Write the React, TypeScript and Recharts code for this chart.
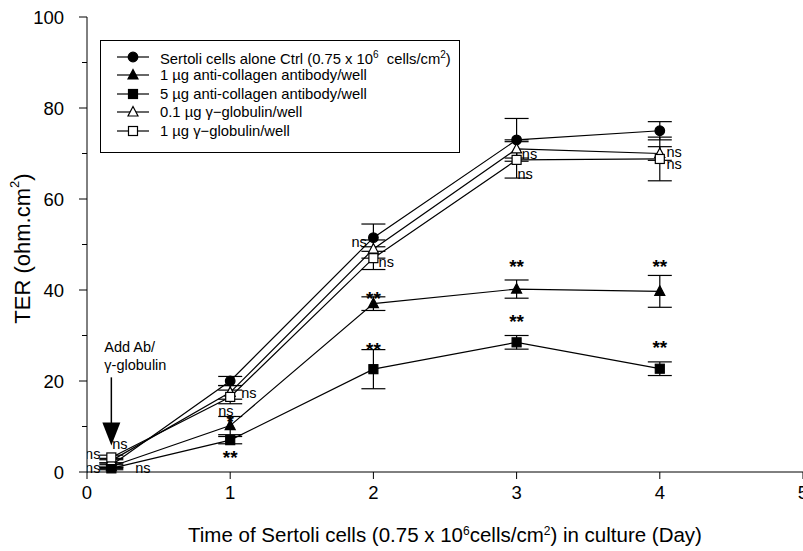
import React from 'react';
import {
  LineChart,
  Line,
  XAxis,
  YAxis,
  ErrorBar,
  Scatter,
  ReferenceLine,
  ReferenceDot,
} from 'recharts';

// days of culture where TER was measured
const days = [0.17, 1, 2, 3, 4];

// TER (ohm.cm2), mean and error bar per group
const ctrl = [1.5, 20, 51.5, 73, 75];
const ctrlErr = [0.5, 1, 3, 4.7, 2];
const anti1 = [1.2, 10.2, 37, 40.2, 39.7];
const anti1Err = [0.4, 2, 1.5, 2, 3.5];
const anti5 = [0.8, 7, 22.6, 28.5, 22.7];
const anti5Err = [0.3, 0.8, 4.3, 1.5, 1.5];
const glob01 = [2.5, 17.5, 49, 71, 70];
const glob01Err = [0.5, 1.5, 2, 2, 1.5];
const glob1 = [3.2, 16.5, 47, 68.6, 68.8];
const glob1Err = [0.5, 1.5, 2.5, 4, 4.8];

const xTicks = [0, 1, 2, 3, 4, 5];
const yTicks = [0, 10, 20, 30, 40, 50, 60, 70, 80, 90, 100];

// significance marks, placed in data units
const noteX = [0.23, 0.04, 0.04, 0.39, 1.13, 0.97, 1.0, 1.0, 1.9, 2.09, 2.0, 2.0, 3.09, 3.06, 3.0, 3.0, 4.1, 4.1, 4.0, 4.0];
const noteY = [6.2, 3.9, 0.8, 0.8, 17.4, 13.4, 12.4, 4.6, 50.5, 46.2, 39.4, 28.2, 69.8, 65.6, 46.4, 34.3, 70.4, 67.6, 46.4, 28.6];
const noteText = ['ns', 'ns', 'ns', 'ns', 'ns', 'ns', '*', '**', 'ns', 'ns', '**', '**', 'ns', 'ns', '**', '**', 'ns', 'ns', '**', '**'];

const addDay = 0.17;

const data = days.map((d, i) => ({
  day: d,
  ctrl: ctrl[i],
  ctrlErr: ctrlErr[i],
  anti1: anti1[i],
  anti1Err: anti1Err[i],
  anti5: anti5[i],
  anti5Err: anti5Err[i],
  glob01: glob01[i],
  glob01Err: glob01Err[i],
  glob1: glob1[i],
  glob1Err: glob1Err[i],
}));

const notes = noteX.map((x, i) => ({ day: x, v: noteY[i], text: noteText[i] }));

const FONT = '"Liberation Sans", Arial, sans-serif';

type Kind = 'circle' | 'triangle' | 'square';

function marker(kind: Kind, filled: boolean, cx: number, cy: number, key?: string) {
  const fill = filled ? '#000' : '#fff';
  if (kind === 'circle') {
    return <circle key={key} cx={cx} cy={cy} r={4.8} fill={fill} stroke="#000" strokeWidth={1.2} />;
  }
  if (kind === 'square') {
    return <rect key={key} x={cx - 4.5} y={cy - 4.5} width={9} height={9} fill={fill} stroke="#000" strokeWidth={1.2} />;
  }
  return (
    <polygon
      key={key}
      points={`${cx},${cy - 5.5} ${cx - 5},${cy + 4} ${cx + 5},${cy + 4}`}
      fill={fill}
      stroke="#000"
      strokeWidth={1.2}
    />
  );
}

const series: { key: string; name: React.ReactNode; kind: Kind; filled: boolean }[] = [
  {
    key: 'ctrl',
    name: (
      <span>
        Sertoli cells alone Ctrl (0.75 x 10<sup style={{ fontSize: 10 }}>6</sup>&nbsp; cells/cm<sup style={{ fontSize: 10 }}>2</sup>)
      </span>
    ),
    kind: 'circle',
    filled: true,
  },
  { key: 'anti1', name: '1 µg anti-collagen antibody/well', kind: 'triangle', filled: true },
  { key: 'anti5', name: '5 µg anti-collagen antibody/well', kind: 'square', filled: true },
  { key: 'glob01', name: '0.1 µg γ−globulin/well', kind: 'triangle', filled: false },
  { key: 'glob1', name: '1 µg γ−globulin/well', kind: 'square', filled: false },
];

// y axis ticks: majors labelled, minors short
const YTick = (props: any) => {
  const { x, y, payload } = props;
  const axisX = x + 8 + 15;
  const major = payload.value % 20 === 0;
  return (
    <g>
      <line x1={axisX - (major ? 8 : 5)} x2={axisX} y1={y} y2={y} stroke="#000" strokeWidth={1} />
      {major && (
        <text x={x} y={y} textAnchor="end" dominantBaseline="central" fontSize={18.5} fontFamily={FONT} fill="#000">
          {payload.value}
        </text>
      )}
    </g>
  );
};

const XTick = (props: any) => {
  const { x, y, payload } = props;
  const axisY = y - 7 - 6;
  return (
    <g>
      <line x1={x} x2={x} y1={axisY} y2={axisY + 7} stroke="#000" strokeWidth={1} />
      <text x={x} y={y + 14} textAnchor="middle" fontSize={18.5} fontFamily={FONT} fill="#000">
        {payload.value}
      </text>
    </g>
  );
};

const XTitle = (props: any) => {
  const vb = props.viewBox;
  const cx = vb.x + vb.width / 2;
  return (
    <text x={cx} y={vb.y + 70} textAnchor="middle" fontSize={20.5} fontFamily={FONT} fill="#000">
      Time of Sertoli cells (0.75 x 10
      <tspan baselineShift="super" fontSize={12}>6</tspan>
      <tspan>cells/cm</tspan>
      <tspan baselineShift="super" fontSize={12}>2</tspan>
      <tspan>) in culture (Day)</tspan>
    </text>
  );
};

const YTitle = (props: any) => {
  const vb = props.viewBox;
  const cy = vb.y + vb.height / 2 + 4;
  const cx = vb.x + 22;
  return (
    <text x={cx} y={cy} transform={`rotate(-90 ${cx} ${cy})`} textAnchor="middle" dominantBaseline="central" fontSize={22} fontFamily={FONT} fill="#000">
      TER (ohm.cm
      <tspan baselineShift="super" fontSize={13}>2</tspan>
      <tspan>)</tspan>
    </text>
  );
};

const NoteShape = (props: any) => {
  const { cx, cy, payload } = props;
  const star = payload.text.startsWith('*');
  return (
    <text
      x={cx}
      y={star ? cy + 6 : cy}
      textAnchor="middle"
      dominantBaseline="central"
      fontSize={star ? 19 : 14.5}
      fontWeight={star ? 'bold' : 'normal'}
      fontFamily={FONT}
      fill="#000"
    >
      {payload.text}
    </text>
  );
};

// arrowhead with the label sitting above the shaft
const ArrowHead = (props: any) => {
  const { cx, cy } = props;
  return (
    <g>
      <polygon points={`${cx},${cy} ${cx - 9},${cy - 23} ${cx + 9},${cy - 23}`} fill="#000" />
      <text x={cx - 7} y={cy - 94} fontSize={14.5} fontFamily={FONT} fill="#000">
        Add Ab/
      </text>
      <text x={cx - 7} y={cy - 76} fontSize={14.5} fontFamily={FONT} fill="#000">
        γ-globulin
      </text>
    </g>
  );
};

function Legend() {
  return (
    <div
      style={{
        position: 'absolute',
        left: 100,
        top: 40,
        width: 360,
        height: 113,
        border: '1px solid #000',
        boxSizing: 'border-box',
        fontFamily: FONT,
        fontSize: 14.8,
        padding: '6.5px 0 0 14px',
        background: '#fff',
      }}
    >
      {series.map((s) => (
        <div key={s.key} style={{ display: 'flex', alignItems: 'center', height: 18.5 }}>
          <svg width={36} height={14} style={{ marginRight: 9, flexShrink: 0 }}>
            <line x1={2} x2={34} y1={7} y2={7} stroke="#000" strokeWidth={1.2} />
            {marker(s.kind, s.filled, 18, 7)}
          </svg>
          <span style={{ whiteSpace: 'nowrap', lineHeight: '18px' }}>{s.name}</span>
        </div>
      ))}
    </div>
  );
}

export default function App() {
  return (
    <div style={{ position: 'absolute', left: 0, top: 0, width: 803, height: 551, background: '#fff' }}>
      <LineChart width={803} height={551} data={data} margin={{ top: 17, right: 0, left: 0, bottom: 0 }}>
        <XAxis
          dataKey="day"
          type="number"
          domain={[0, 5]}
          ticks={xTicks}
          interval={0}
          height={79}
          tickSize={7}
          tickMargin={6}
          tickLine={false}
          stroke="#000"
          tick={<XTick />}
          label={<XTitle />}
          allowDataOverflow
        />
        <YAxis
          type="number"
          domain={[0, 100]}
          ticks={yTicks}
          interval={0}
          width={87}
          tickSize={8}
          tickMargin={15}
          tickLine={false}
          stroke="#000"
          tick={<YTick />}
          label={<YTitle />}
        />
        <ReferenceLine
          segment={[
            { x: addDay, y: 20.8 },
            { x: addDay, y: 8 },
          ]}
          stroke="#000"
          strokeWidth={1.5}
        />
        <ReferenceDot x={addDay} y={5.8} r={0} shape={<ArrowHead />} />
        {series.map((s) => (
          <Line
            key={s.key}
            dataKey={s.key}
            type="linear"
            stroke="#000"
            strokeWidth={1.2}
            isAnimationActive={false}
            dot={(p: any) => marker(s.kind, s.filled, p.cx, p.cy, `${s.key}-${p.index}`)}
            activeDot={false}
          >
            <ErrorBar dataKey={`${s.key}Err`} width={12} stroke="#000" strokeWidth={1.2} direction="y" />
          </Line>
        ))}
        <Scatter data={notes} dataKey="v" isAnimationActive={false} shape={<NoteShape />} />
      </LineChart>
      <Legend />
    </div>
  );
}
